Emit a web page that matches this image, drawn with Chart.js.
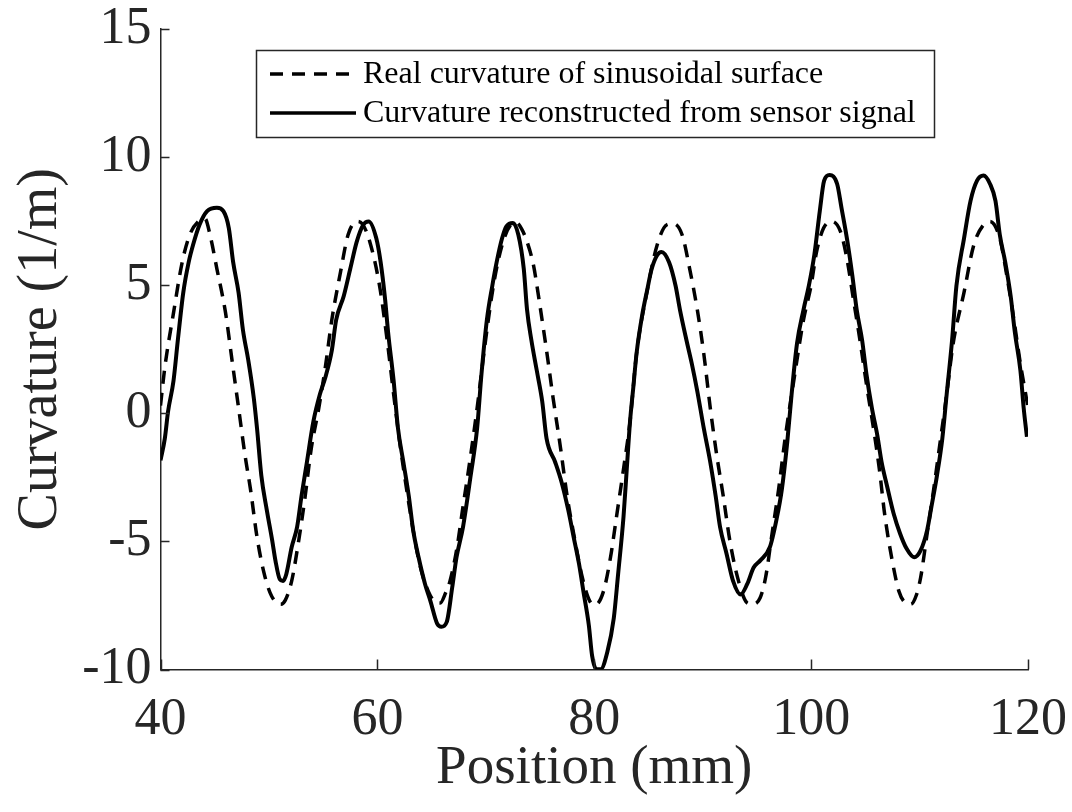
<!DOCTYPE html>
<html>
<head>
<meta charset="utf-8">
<script src="https://cdn.jsdelivr.net/npm/chart.js@4.4.1/dist/chart.umd.min.js"></script>
<style>
  html, body { margin: 0; padding: 0; background: #fff; }
  #wrap { width: 1072px; height: 812px; }
</style>
</head>
<body>
<div id="wrap"><canvas id="curv" width="1072" height="812"></canvas></div>
<script>
// values: position (mm) and curvature (1/m)
const posReal = [40.0, 40.4, 41.2, 42.0, 42.7, 43.5, 44.1, 44.6, 45.2, 46.0, 46.6, 47.2, 47.8, 48.3, 48.9, 49.5, 50.1, 50.7, 51.1, 51.5, 52.1, 52.7, 53.3, 53.9, 54.6, 55.2, 55.8, 56.6, 57.3, 58.1, 58.6, 59.3, 60.2, 60.9, 61.5, 62.1, 62.7, 63.3, 63.9, 64.7, 65.3, 65.8, 66.3, 66.7, 67.3, 67.9, 68.6, 69.2, 69.9, 70.7, 71.5, 72.3, 72.8, 73.3, 73.8, 74.4, 75.0, 75.6, 76.2, 76.9, 77.5, 78.1, 78.9, 79.6, 80.1, 80.85, 81.5, 82.1, 82.7, 83.3, 83.9, 84.85, 85.8, 86.7, 87.3, 88.1, 88.8, 89.5, 90.1, 90.7, 91.3, 91.9, 92.5, 93.3, 94.1, 94.6, 95.3, 95.8, 96.4, 97.0, 97.6, 98.4, 99.3, 100.0, 100.5, 101.15, 101.9, 102.7, 103.3, 103.9, 104.5, 105.1, 105.8, 106.3, 106.8, 107.5, 108.1, 108.7, 109.2, 109.7, 110.1, 110.7, 111.3, 111.9, 112.5, 113.1, 114.1, 115.0, 115.9, 116.5, 117.4, 118.1, 118.7, 119.3, 119.9, 120.0];
const curvReal = [0.3, 1.8, 3.92, 5.9, 6.97, 7.49, 7.6, 6.9, 5.64, 3.92, 2.06, 0.21, -1.65, -2.97, -4.83, -6.15, -7.0, -7.4, -7.45, -7.3, -6.54, -5.09, -3.37, -1.38, 0.21, 1.8, 3.65, 5.51, 6.97, 7.49, 7.4, 6.7, 4.98, 2.86, 0.74, -1.25, -2.97, -4.56, -5.89, -6.95, -7.35, -7.4, -7.0, -6.54, -5.35, -3.63, -1.65, 0.21, 2.6, 4.98, 6.57, 7.36, 7.45, 7.2, 6.7, 5.77, 4.18, 2.46, 0.61, -1.38, -3.24, -4.69, -6.41, -7.34, -7.47, -6.95, -5.62, -3.9, -2.17, -0.32, 2.33, 4.72, 6.57, 7.36, 7.4, 6.97, 5.64, 4.05, 2.33, 0.21, -1.65, -3.24, -4.96, -6.54, -7.4, -7.45, -7.2, -6.41, -4.69, -2.97, -0.98, 1.27, 3.65, 5.0, 6.3, 7.23, 7.49, 7.1, 6.04, 4.45, 2.86, 1.14, -0.72, -2.2, -4.0, -5.8, -6.95, -7.4, -7.45, -7.1, -6.41, -4.69, -2.97, -1.12, 0.74, 2.73, 4.72, 6.57, 7.36, 7.49, 6.83, 5.24, 3.65, 1.93, 0.47, 0.2];

const posSensor = [40.0, 40.4, 40.7, 41.2, 41.6, 42.1, 42.6, 43.0, 43.6, 44.3, 45.2, 45.8, 46.3, 46.7, 47.2, 47.6, 48.1, 48.6, 48.9, 49.3, 49.8, 50.3, 50.6, 51.0, 51.3, 51.6, 52.1, 52.6, 53.0, 53.5, 54.1, 54.7, 55.2, 55.8, 56.2, 56.9, 57.5, 58.1, 58.7, 59.2, 59.9, 60.3, 60.7, 61.0, 61.5, 61.9, 62.4, 62.9, 63.3, 63.8, 64.4, 64.9, 65.5, 65.9, 66.4, 66.9, 67.3, 67.9, 68.6, 69.2, 69.6, 70.1, 70.6, 71.0, 71.5, 71.9, 72.5, 73.0, 73.5, 73.8, 74.2, 74.7, 75.2, 75.6, 76.4, 77.0, 77.6, 78.1, 78.6, 79.0, 79.5, 79.8, 80.2, 80.6, 81.2, 81.8, 82.2, 82.7, 83.0, 83.3, 83.6, 83.9, 84.4, 84.9, 85.3, 85.8, 86.2, 86.9, 87.5, 87.9, 88.5, 89.0, 89.5, 90.1, 90.7, 91.2, 91.6, 92.2, 92.8, 93.5, 94.1, 94.7, 95.3, 96.2, 96.8, 97.3, 97.8, 98.2, 98.7, 99.3, 99.8, 100.3, 100.8, 101.2, 101.7, 102.4, 102.8, 103.3, 103.8, 104.2, 104.7, 105.1, 105.6, 106.1, 106.5, 107.0, 107.6, 108.2, 108.8, 109.5, 110.1, 110.7, 111.1, 111.6, 112.1, 112.5, 113.0, 113.4, 114.1, 114.7, 115.3, 115.9, 116.5, 117.0, 117.4, 117.9, 118.4, 118.8, 119.3, 119.6, 119.9];
const curvSensor = [-1.84, -0.98, 0.08, 1.27, 2.86, 4.71, 5.9, 6.57, 7.36, 7.89, 8.02, 7.89, 7.23, 5.9, 4.71, 3.26, 2.06, 0.61, -0.58, -2.44, -3.77, -4.96, -5.75, -6.48, -6.55, -6.28, -5.22, -4.43, -3.24, -1.91, -0.32, 0.74, 1.4, 2.46, 3.65, 4.58, 5.64, 6.7, 7.36, 7.49, 6.83, 5.9, 4.5, 3.12, 1.27, -0.58, -1.91, -3.24, -4.56, -5.62, -6.67, -7.34, -8.2, -8.33, -8.14, -6.8, -5.62, -4.43, -2.44, -0.58, 1.53, 3.65, 4.98, 5.9, 6.83, 7.3, 7.43, 6.97, 5.64, 4.05, 2.86, 1.67, 0.47, -0.98, -1.91, -2.71, -3.77, -4.83, -5.89, -6.95, -8.27, -9.46, -9.99, -9.99, -9.33, -8.0, -6.28, -4.03, -2.17, -0.32, 1.0, 2.33, 3.78, 4.85, 5.64, 6.17, 6.3, 5.9, 4.98, 4.05, 2.86, 1.93, 0.87, -0.58, -1.91, -3.24, -4.43, -5.48, -6.54, -7.07, -6.67, -6.02, -5.75, -5.22, -4.16, -2.97, -1.12, 0.74, 2.73, 4.05, 5.0, 6.2, 7.9, 9.08, 9.3, 8.95, 8.02, 6.83, 5.38, 4.05, 2.86, 1.53, 0.21, -0.85, -1.91, -2.84, -3.9, -4.69, -5.28, -5.62, -5.35, -4.56, -3.63, -2.44, -0.98, 0.74, 2.86, 4.98, 6.83, 8.29, 9.08, 9.28, 8.95, 8.29, 6.97, 5.9, 4.58, 3.12, 1.67, 0.21, -0.92];

const xTicks = [40, 60, 80, 100, 120];
const yTicks = [-10, -5, 0, 5, 10, 15];
const seriesNames = ['Real curvature of sinusoidal surface', 'Curvature reconstructed from sensor signal'];

const ink = '#262626';
const serif = '"Liberation Serif", "Times New Roman", serif';

const toPoints = (xs, ys) => xs.map((x, i) => ({ x: x, y: ys[i] }));

// matlab style ticks pointing into the plot
const innerTicks = {
    id: 'innerTicks',
    afterDraw(chart) {
        const c = chart.ctx, a = chart.chartArea;
        const xs = chart.scales.x, ys = chart.scales.y;
        c.save();
        c.strokeStyle = ink;
        c.lineWidth = 1.5;
        c.beginPath();
        xTicks.forEach(v => {
            const px = Math.round(xs.getPixelForValue(v)) + 0.5;
            c.moveTo(px, a.bottom);
            c.lineTo(px, a.bottom - 10);
        });
        yTicks.forEach(v => {
            const py = Math.round(ys.getPixelForValue(v)) + 0.5;
            c.moveTo(a.left, py);
            c.lineTo(a.left + 9, py);
        });
        c.stroke();
        c.restore();
    }
};

// legend box like the one in the figure
const boxLegend = {
    id: 'boxLegend',
    afterDraw(chart) {
        const c = chart.ctx;
        const L = 256, T = 50, R = 934, B = 137;
        c.save();
        c.fillStyle = '#fff';
        c.fillRect(L, T, R - L, B - T);
        c.strokeStyle = ink;
        c.lineWidth = 1.5;
        c.strokeRect(L + 0.5, T + 0.5, R - L, B - T);
        c.font = '32px ' + serif;
        c.textBaseline = 'middle';
        c.textAlign = 'left';
        const rows = [74, 113];
        chart.data.datasets.forEach((ds, i) => {
            const y = rows[i];
            c.strokeStyle = ds.borderColor;
            c.lineWidth = 3.5;
            c.setLineDash(ds.borderDash || []);
            c.beginPath();
            c.moveTo(270, y);
            c.lineTo(356, y);
            c.stroke();
            c.setLineDash([]);
            c.fillStyle = '#000';
            c.fillText(ds.label, 363, y + 1);
        });
        c.restore();
    }
};

new Chart(document.getElementById('curv').getContext('2d'), {
    type: 'line',
    data: {
        datasets: [{
            label: seriesNames[0],
            data: toPoints(posReal, curvReal),
            borderColor: '#000',
            borderWidth: 3.5,
            borderDash: [13, 9],
            pointRadius: 0,
            cubicInterpolationMode: 'monotone',
            fill: false
        }, {
            label: seriesNames[1],
            data: toPoints(posSensor, curvSensor),
            borderColor: '#000',
            borderWidth: 4,
            pointRadius: 0,
            cubicInterpolationMode: 'monotone',
            fill: false
        }]
    },
    options: {
        responsive: false,
        animation: false,
        devicePixelRatio: 1,
        layout: { padding: { top: 29, right: 44, left: 0, bottom: 0 } },
        plugins: { legend: { display: false }, tooltip: { enabled: false } },
        scales: {
            x: {
                type: 'linear',
                min: 40, max: 120,
                afterBuildTicks: s => { s.ticks = xTicks.map(v => ({ value: v })); },
                afterFit: s => { s.height = 142.5; s.paddingLeft = 0; s.paddingRight = 0; },
                grid: { display: false, drawTicks: false, tickLength: 0 },
                border: { display: true, color: ink, width: 1.5 },
                ticks: { color: ink, padding: 20, maxRotation: 0, font: { family: serif, size: 52 } },
                title: { display: true, text: 'Position (mm)', color: ink, padding: { top: 0, bottom: 10 }, font: { family: serif, size: 55 } }
            },
            y: {
                type: 'linear',
                min: -10, max: 15,
                afterBuildTicks: s => { s.ticks = yTicks.map(v => ({ value: v })); },
                afterFit: s => { s.width = 160.5; s.paddingTop = 0; s.paddingBottom = 0; },
                grid: { display: false, drawTicks: false, tickLength: 0 },
                border: { display: true, color: ink, width: 1.5 },
                ticks: { color: ink, padding: 9, font: { family: serif, size: 52 } },
                title: { display: true, text: 'Curvature (1/m)', color: ink, padding: { top: 8, bottom: 0 }, font: { family: serif, size: 56 } }
            }
        }
    },
    plugins: [innerTicks, boxLegend]
});
</script>
</body>
</html>
